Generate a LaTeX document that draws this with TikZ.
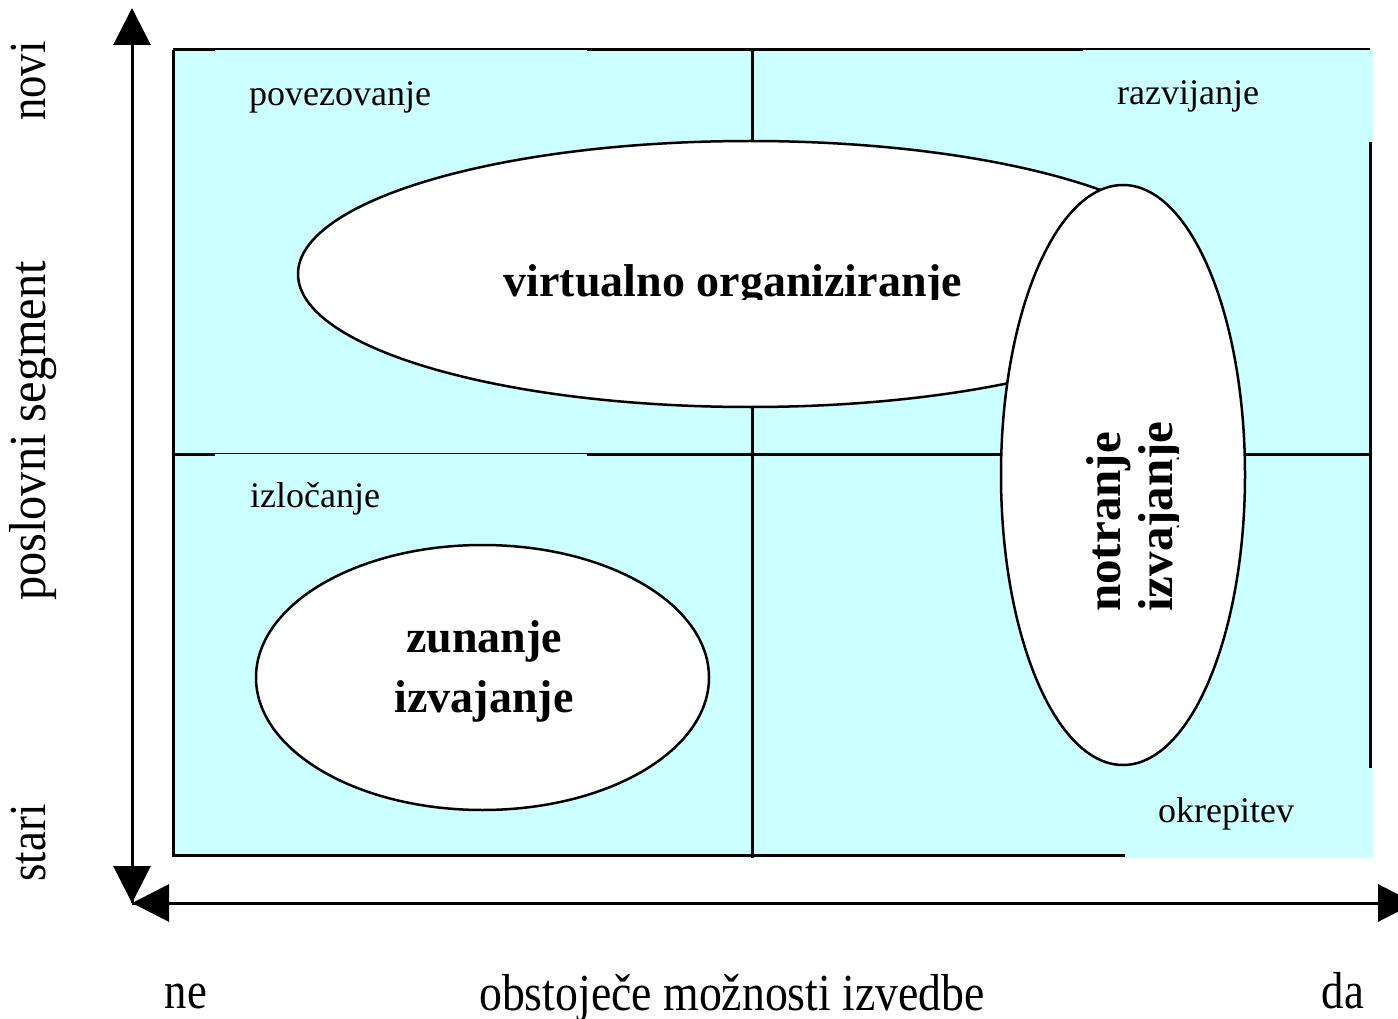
\documentclass[tikz,border=0pt]{standalone}
\usepackage{fontspec}
\setmainfont{Liberation Serif}
\usetikzlibrary{arrows.meta,shapes.geometric}
\definecolor{quad}{HTML}{CCFFFF}

\begin{document}
\begin{tikzpicture}[x=1pt,y=-1pt,
  grid/.style={line width=3pt},
  axis/.style={line width=3pt},
  tip/.style={-{Triangle[length=37pt,width=37pt]}},
  patch/.style={fill=quad},
  lbl/.style={font=\fontsize{36}{40}\selectfont, inner sep=0pt},
  oval/.style={ellipse, draw, line width=2.5pt, fill=white, inner sep=0pt},
  bold/.style={font=\fontsize{46}{52}\selectfont\bfseries, inner sep=0pt},
  axtxt/.style={font=\fontsize{52}{60}\selectfont, inner sep=0pt}
]
\useasboundingbox (0,0) rectangle (1398,1019);

% quadrant background
\fill[quad] (173,50) rectangle (1372,855);
\fill[quad] (1125,855) rectangle (1372,858);

% frame and dividers
\draw[grid] (173,50) -- (1370,50);
\draw[grid] (173,50) -- (173,855) -- (1370,855);
\draw[grid] (1370,50) -- (1370,855);
\draw[grid] (752,50) -- (752,858);
\draw[grid] (173,454) -- (1372,454);

% label backgrounds
\fill[patch] (215,50) rectangle (587,130);
\fill[patch] (1083,50) rectangle (1373,142);
\fill[patch] (215,454) rectangle (587,530);
\fill[patch] (1125,768) rectangle (1373,858);

% quadrant labels
\node[lbl, anchor=base west] (q1) at (249,106) {povezovanje};
\node[lbl, anchor=base west] (q2) at (1117,105) {razvijanje};
\node[lbl, anchor=base west] (q3) at (250,507) {izločanje};
\node[lbl, anchor=base west] (q4) at (1158,822) {okrepitev};

% ovals
\node[oval, minimum width=904pt, minimum height=266pt] (vo) at (750,274) {};
\node[oval, minimum width=453pt, minimum height=265pt] (zi) at (482.5,677.5) {};
\node[oval, minimum width=244pt, minimum height=580pt] (ni) at (1123,475) {};

% oval captions (text frames cut off the descenders)
\begin{scope}
  \clip (480,230) rectangle (990,299);
  \node[bold, anchor=base] (votxt) at (733,296) {virtualno organiziranje};
\end{scope}
\node[bold, anchor=base] (zitxt1) at (484,652) {zunanje};
\node[bold, anchor=base] (zitxt2) at (484,712) {izvajanje};
\node[bold, font=\fontsize{49}{52}\selectfont\bfseries, rotate=90, anchor=base west] (nitxt1) at (1120,612) {notranje};
\begin{scope}
  \clip (1120,400) rectangle (1178,630);
  \node[bold, font=\fontsize{49}{52}\selectfont\bfseries, rotate=90, anchor=base west] (nitxt2) at (1172,612) {izvajanje};
\end{scope}

% axes
\coordinate (orig) at (132,903);
\coordinate (ytop) at (132,8);
\coordinate (xend) at (1415,903);
\draw[axis, tip] (132,880) -- (orig);
\draw[axis, tip] (orig) -- (ytop);
\draw[axis, tip] (orig) -- (xend);
\draw[axis, tip] (160,903) -- (orig);

% axis captions
\node[axtxt, rotate=90, anchor=base] (novi) at (45,81) {\scalebox{0.86}[1]{novi}};
\node[axtxt, rotate=90, anchor=base] (seg) at (45,431) {\scalebox{0.93}[1]{poslovni segment}};
\node[axtxt, rotate=90, anchor=base] (stari) at (45,843) {\scalebox{0.86}[1]{stari}};
\node[axtxt, anchor=base] (ne) at (186,1008) {\scalebox{0.86}[1]{ne}};
\node[axtxt, anchor=base] (moz) at (732,1010) {\scalebox{0.88}[1]{obstoječe možnosti izvedbe}};
\node[axtxt, anchor=base] (da) at (1343,1008) {\scalebox{0.86}[1]{da}};
\end{tikzpicture}
\end{document}
